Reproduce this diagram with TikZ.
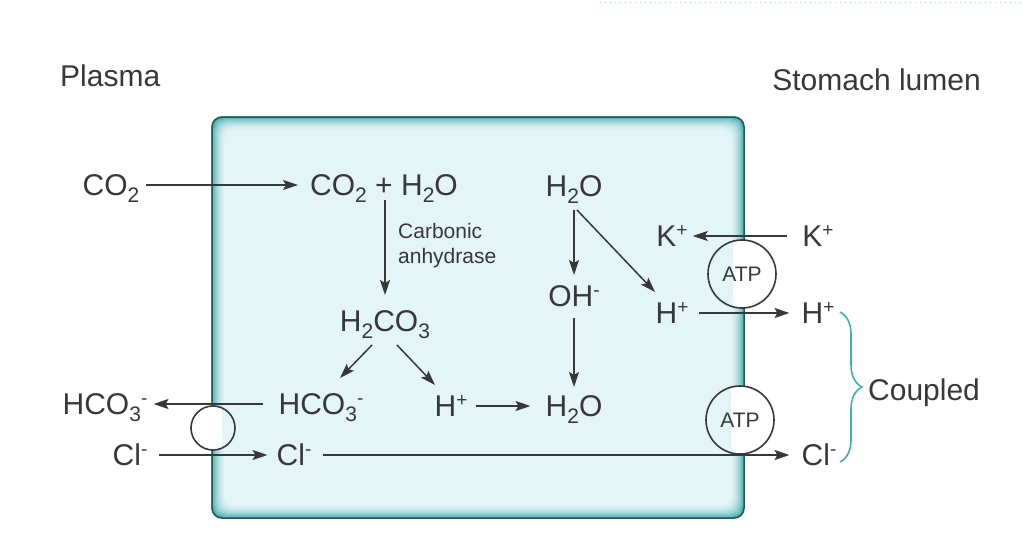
\documentclass[tikz,border=0pt]{standalone}
\usepackage{fontspec}
\setmainfont{Liberation Sans}
\usetikzlibrary{arrows.meta,calc,decorations.pathreplacing}
\newcommand\sbs[1]{\raisebox{-0.23em}{\fontsize{21}{21}\selectfont #1}}
\newcommand\sps[1]{\raisebox{0.36em}{\fontsize{19}{19}\selectfont #1}}
\definecolor{ink}{HTML}{383838}
\definecolor{cellin}{HTML}{E4F5F7}
\definecolor{tealmid}{HTML}{2FA0A2}
\definecolor{tealdark}{HTML}{1E5A5B}
\definecolor{bracec}{HTML}{3FB0B0}
\definecolor{dotc}{HTML}{A8D4E4}
\begin{document}
\begin{tikzpicture}[x=1pt,y=-1pt,
  lbl/.style={text=ink, font=\fontsize{30}{36}\selectfont, inner sep=0pt, text height=21.6pt, text depth=0pt},
  arr/.style={draw=ink, line width=1.5pt, -{Stealth[length=15pt,width=10pt,inset=3pt]}},
  pump/.style={circle, draw=ink, line width=1.6pt, minimum size=68pt, inner sep=0pt, text=ink, font=\fontsize{21}{21}\selectfont},
]
\useasboundingbox (0,0) rectangle (1023,541);
% faint dotted rule at top
\draw[dotc, line width=1pt, dash pattern=on 1pt off 4pt] (600,2) -- (1023,2);

% cell
\fill[cellin, rounded corners=10pt] (212,117) rectangle (744,518);
\foreach \i in {0,...,14} {
  \pgfmathsetmacro\p{100*(1-\i/15)^2}
  \draw[tealmid!\p!cellin, line width=1.3pt, rounded corners=10pt] ({212+\i},{117+\i}) rectangle ({744-\i},{518-\i});
}
\draw[tealdark, line width=1.5pt, rounded corners=10pt] (212,117) rectangle (744,518);

% transporters (fills)
\begin{scope}
  \clip (742,274) circle (34);
  \fill[white] (700,230) rectangle (800,320);
  \fill[cellin] (700,230) rectangle (733,320);
\end{scope}
\begin{scope}
  \clip (740,420) circle (34);
  \fill[white] (700,380) rectangle (800,460);
  \fill[cellin] (700,380) rectangle (731,460);
\end{scope}
\begin{scope}
  \clip (213,428) circle (22);
  \fill[white] (180,400) rectangle (250,460);
  \fill[cellin] (222,400) rectangle (250,460);
\end{scope}
\node[pump] (atp1) at (742,274) {ATP};
\node[pump] (atp2) at (740,420) {ATP};
\node[pump, minimum size=44pt] (exch) at (213,428) {};

% labels
\node[lbl, anchor=west] (plasma) at (60,76) {Plasma};
\node[lbl, anchor=east] (lumen) at (981,80) {Stomach lumen};

\node[lbl] (co2p) at (111,185) {CO\sbs{2}};
\node[lbl] (co2h2o) at (384,185) {CO\sbs{2} + H\sbs{2}O};
\node[text=ink, font=\fontsize{21}{25}\selectfont, align=left, anchor=north west, inner sep=0pt] (ca) at (398,223) {Carbonic\\anhydrase};
\node[lbl] (h2co3) at (385,321) {H\sbs{2}CO\sbs{3}};
\node[lbl] (hco3c) at (321,404) {HCO\sbs{3}\sps{-}};
\node[lbl] (hp) at (451,406) {H\sps{+}};
\node[lbl] (h2ob) at (574,406) {H\sbs{2}O};
\node[lbl] (oh) at (574,296) {OH\sps{-}};
\node[lbl] (h2ot) at (574,186) {H\sbs{2}O};
\node[lbl] (kin) at (672,236) {K\sps{+}};
\node[lbl] (kout) at (818,236) {K\sps{+}};
\node[lbl] (hin) at (672,313) {H\sps{+}};
\node[lbl] (hout) at (818,313) {H\sps{+}};
\node[lbl] (clout) at (819,455) {Cl\sps{-}};
\node[lbl] (hco3p) at (105,404) {HCO\sbs{3}\sps{-}};
\node[lbl] (clp) at (130,455) {Cl\sps{-}};
\node[lbl] (clc) at (294,455) {Cl\sps{-}};
\node[lbl, anchor=west] (coupled) at (868,390) {Coupled};

% arrows
\draw[arr, shorten <=6pt, shorten >=12pt] (co2p.east) -- (co2h2o.west);
\draw[arr, shorten <=4pt, shorten >=15pt] (co2h2o.south -| h2co3.north) -- (h2co3.north);
\draw[arr] ($(h2co3.south)+(-13,13)$) -- ($(hco3c.north)+(19,-15)$);
\draw[arr] ($(h2co3.south)+(12,13)$) -- ($(hp.north)+(-16,-10)$);
\draw[arr, shorten <=8pt, shorten >=15pt] (hp.east) -- (h2ob.west);
\draw[arr, shorten <=13pt, shorten >=10pt] (h2ot.south) -- (oh.north);
\draw[arr, shorten <=11pt, shorten >=8pt] (oh.south) -- (h2ob.north);
\draw[arr] ($(h2ot.south)+(3,13)$) -- ($(hin.north)+(-17,-10)$);
\draw[arr, shorten <=15pt, shorten >=5pt] (kout.west) -- (kin.east);
\draw[arr, shorten <=10pt, shorten >=12pt] (hin.east) -- (hout.west);
\draw[arr, shorten <=15pt, shorten >=6pt] (hco3c.west) -- (hco3p.east);
\draw[arr, shorten <=11pt, shorten >=9pt] (clp.east) -- (clc.west);
\draw[arr, shorten <=11pt, shorten >=12pt] (clc.east) -- (clout.west);

% brace
\coordinate (bt) at (840,312);
\coordinate (bb) at (840,462);
\draw[bracec, line width=1.6pt, decorate, decoration={brace, amplitude=22pt, aspect=0.5}] (bt) -- (bb);
\end{tikzpicture}
\end{document}
